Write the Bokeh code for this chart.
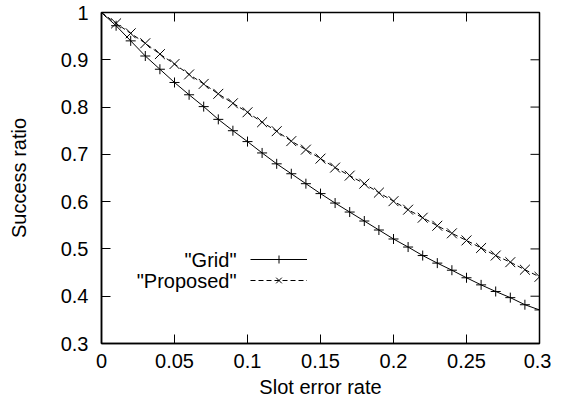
import math
from bokeh.plotting import figure
from bokeh.models import FixedTicker, Label, Legend, LegendItem, Range1d
from bokeh.embed import file_html
from bokeh.resources import INLINE

# ---- data ----
slot_error_rate = [0.00, 0.01, 0.02, 0.03, 0.04, 0.05, 0.06, 0.07, 0.08, 0.09,
                   0.10, 0.11, 0.12, 0.13, 0.14, 0.15, 0.16, 0.17, 0.18, 0.19,
                   0.20, 0.21, 0.22, 0.23, 0.24, 0.25, 0.26, 0.27, 0.28, 0.29, 0.30]
grid_ratio = [1.000, 0.972, 0.940, 0.908, 0.880, 0.852, 0.826, 0.801, 0.774, 0.750,
              0.727, 0.703, 0.680, 0.659, 0.638, 0.617, 0.597, 0.578, 0.559, 0.540,
              0.521, 0.504, 0.486, 0.470, 0.455, 0.439, 0.424, 0.410, 0.397, 0.382, 0.371]
proposed_ratio = [1.000, 0.977, 0.956, 0.935, 0.912, 0.891, 0.869, 0.849, 0.828, 0.808,
                  0.789, 0.768, 0.749, 0.728, 0.710, 0.691, 0.672, 0.655, 0.638, 0.619,
                  0.601, 0.583, 0.566, 0.549, 0.533, 0.518, 0.502, 0.486, 0.472, 0.456, 0.441]
series_names = ['"Grid"', '"Proposed"']
x_ticks = [0.0, 0.05, 0.1, 0.15, 0.2, 0.25, 0.3]
x_tick_labels = ["0", "0.05", "0.1", "0.15", "0.2", "0.25", "0.3"]
y_ticks = [0.3, 0.4, 0.5, 0.6, 0.7, 0.8, 0.9, 1.0]
y_tick_labels = ["0.3", "0.4", "0.5", "0.6", "0.7", "0.8", "0.9", "1"]
x_title = "Slot error rate"
y_title = "Success ratio"
x_min, x_max = 0.0, 0.3
y_min, y_max = 0.3, 1.0

FONT = "Liberation Sans"
FS = "20px"

p = figure(width=551, height=400, output_backend="svg", toolbar_location=None,
           x_range=Range1d(x_min, x_max), y_range=Range1d(y_min, y_max),
           min_border_left=101, min_border_right=12, min_border_top=12, min_border_bottom=57,
           x_axis_label=x_title, y_axis_label=y_title)
p.grid.visible = False
p.outline_line_color = "black"
p.outline_line_width = 1.5
p.background_fill_color = "white"
p.border_fill_color = "white"

def style_axis(ax, ticks, labels):
    ax.ticker = FixedTicker(ticks=ticks)
    ax.major_label_overrides = {t: l for t, l in zip(ticks, labels)}
    ax.minor_tick_line_color = None
    ax.major_tick_in = 9
    ax.major_tick_out = 0
    ax.major_tick_line_color = "black"
    ax.axis_line_color = "black"
    ax.axis_line_width = 1.5
    ax.major_label_text_font = FONT
    ax.major_label_text_color = "black"
    ax.major_label_text_font_size = FS
    ax.axis_label_text_font = FONT
    ax.axis_label_text_font_size = FS
    ax.axis_label_text_font_style = "normal"
    ax.axis_label_text_color = "black"

style_axis(p.xaxis[0], x_ticks, x_tick_labels)
style_axis(p.yaxis[0], y_ticks, y_tick_labels)
p.xaxis[0].major_label_standoff = 10
p.yaxis[0].major_label_standoff = 13
p.xaxis[0].axis_label_standoff = 5
p.yaxis[0].axis_label_standoff = 28

# mirrored ticks on the top and right edges (half of each dash is clipped by the frame)
p.scatter(x_ticks, [y_max] * len(x_ticks), marker="dash", angle=math.pi / 2, size=18,
          line_color="black", line_width=1)
p.scatter([x_max] * len(y_ticks), y_ticks, marker="dash", size=18,
          line_color="black", line_width=1)

# ---- series ----
g_line = p.line(slot_error_rate, grid_ratio, line_color="black", line_width=1)
g_mark = p.scatter(slot_error_rate, grid_ratio, marker="cross", size=10,
                   line_color="black", line_width=1)
pr_line = p.line(slot_error_rate, proposed_ratio, line_color="black", line_width=1,
                 line_dash="5 3")
pr_mark = p.scatter(slot_error_rate, proposed_ratio, marker="x", size=14,
                    line_color="black", line_width=1)

# gnuplot-like key: text on the left, sample on the right
for name, rends, yy in zip(series_names, [[g_line, g_mark], [pr_line, pr_mark]], [84, 63]):
    lg = Legend(items=[LegendItem(label=" ", renderers=rends)],
                location=(149, yy - 10), glyph_width=57, glyph_height=20,
                spacing=0, padding=0, margin=0, label_width=0, label_height=20,
                label_standoff=0, label_text_font_size="1px", border_line_color=None,
                background_fill_alpha=0)
    p.add_layout(lg)
    p.add_layout(Label(x=135, y=yy, x_units="screen", y_units="screen", text=name,
                       text_align="right", text_baseline="middle",
                       text_font=FONT, text_font_size=FS, text_color="black"))

open("out.html", "w").write(file_html(p, INLINE))
